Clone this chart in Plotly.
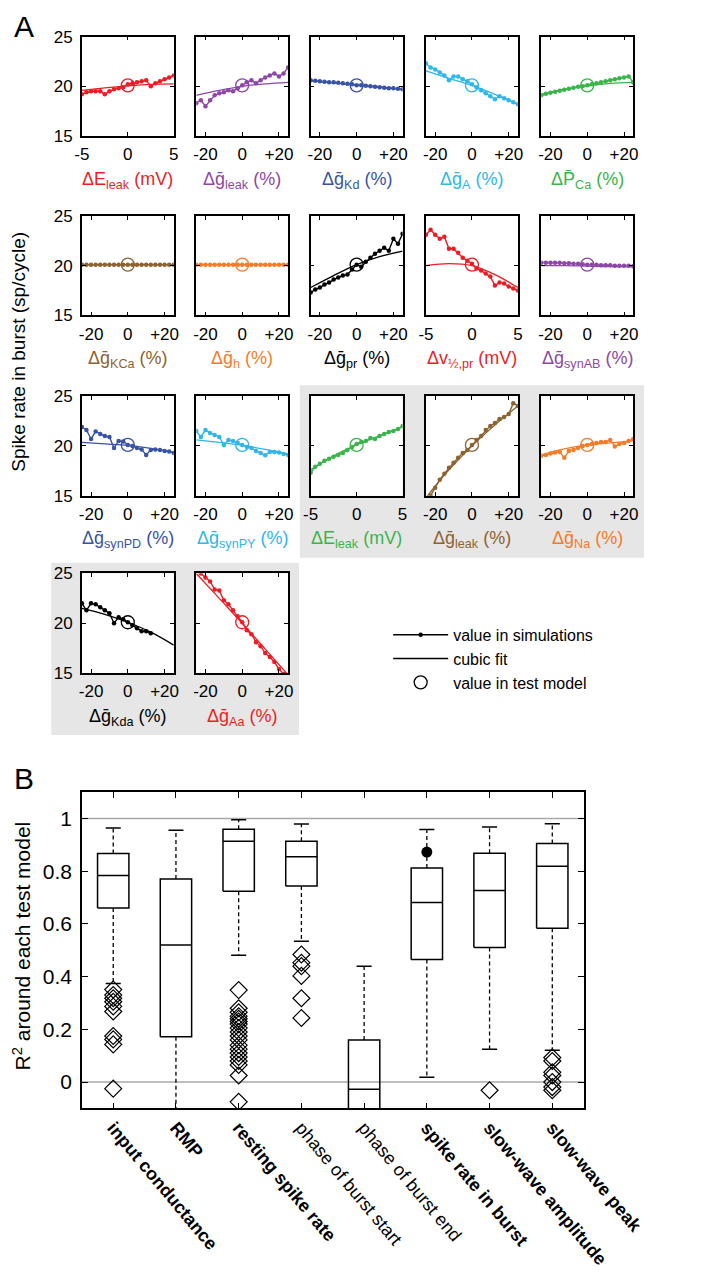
import plotly.graph_objects as go

W, H = 706, 1280
FONT = 'Liberation Sans, Arial, Helvetica, sans-serif'

# ---------------------------------------------------------------------------
# PANEL A DATA
# ---------------------------------------------------------------------------
PCT_X = [-25, -22.5, -20, -17.5, -15, -12.5, -10, -7.5, -5, -2.5, 0,
         2.5, 5, 7.5, 10, 12.5, 15, 17.5, 20, 22.5, 25]
MV_X = [-5, -4.5, -4, -3.5, -3, -2.5, -2, -1.5, -1, -0.5, 0,
        0.5, 1, 1.5, 2, 2.5, 3, 3.5, 4, 4.5, 5]
PCT_FIT_X = [-25, -12.5, 0, 12.5, 25]
MV_FIT_X = [-5, -2.5, 0, 2.5, 5]
TEST_X, TEST_Y = 0, 20.1

eleak_sim = [19.2, 19.4, 19.5, 19.5, 19.5, 19.2, 19.5, 19.7, 19.8, 19.9, 20.2,
             20.3, 20.4, 20.5, 20.6, 20.0, 20.3, 20.5, 20.7, 20.9, 21.1]
eleak_fit = [19.6, 19.85, 20.05, 20.2, 20.25]
gleak_sim = [18.3, 18.6, 18.0, 18.6, 19.1, 19.3, 19.4, 19.6, 19.5, 19.8, 20.1,
             20.4, 20.6, 20.3, 20.6, 20.9, 21.1, 21.3, 21.0, 21.3, 21.9]
gleak_fit = [19.1, 19.6, 20.0, 20.25, 20.4]
gkd_sim = [20.6, 20.55, 20.5, 20.45, 20.4, 20.4, 20.35, 20.3, 20.25, 20.2, 20.1,
           20.1, 20.05, 20.0, 19.95, 19.9, 19.85, 19.8, 19.8, 19.75, 19.7]
gkd_fit = [20.55, 20.35, 20.15, 19.95, 19.7]
ga_sim = [22.3, 21.9, 21.7, 21.4, 21.1, 20.6, 21.0, 21.0, 20.7, 20.5, 20.2,
          19.9, 19.6, 19.3, 19.0, 18.7, 19.0, 18.8, 18.6, 18.4, 18.2]
ga_fit = [21.55, 20.8, 20.1, 19.2, 18.2]
pca_sim = [19.1, 19.25, 19.35, 19.45, 19.55, 19.65, 19.75, 19.85, 19.95, 20.0, 20.1,
           20.2, 20.3, 20.4, 20.5, 20.6, 20.7, 20.8, 20.9, 21.0, 20.4]
pca_fit = [19.2, 19.7, 20.05, 20.3, 20.4]
gkca_sim = [20.1, 20.1, 20.1, 20.1, 20.1, 20.1, 20.1, 20.1, 20.1, 20.1, 20.1,
            20.1, 20.1, 20.1, 20.1, 20.1, 20.1, 20.1, 20.1, 20.1, 20.1]
gkca_fit = [20.1, 20.1, 20.1, 20.1, 20.1]
gh_sim = [20.1, 20.1, 20.1, 20.1, 20.1, 20.1, 20.1, 20.1, 20.1, 20.1, 20.1,
          20.1, 20.1, 20.1, 20.1, 20.1, 20.1, 20.1, 20.1, 20.1, 20.1]
gh_fit = [20.1, 20.1, 20.1, 20.1, 20.1]
gpr_sim = [17.3, 17.6, 17.8, 18.1, 18.3, 18.6, 18.8, 19.0, 19.1, 19.6, 20.1,
           19.9, 20.4, 20.8, 21.2, 21.5, 21.8, 21.5, 22.7, 22.2, 23.2]
gpr_fit = [17.8, 19.0, 20.1, 20.9, 21.45]
vpr_sim = [23.1, 23.6, 23.1, 22.7, 22.9, 21.7, 21.7, 21.3, 20.8, 20.5, 20.2,
           19.7, 19.5, 19.2, 18.9, 18.0, 18.3, 18.2, 17.9, 17.7, 17.5]
vpr_fit = [20.0, 20.2, 20.0, 19.1, 17.8]
gsynab_sim = [20.3, 20.3, 20.3, 20.3, 20.3, 20.25, 20.25, 20.2, 20.2, 20.15, 20.1,
              20.1, 20.1, 20.05, 20.05, 20.05, 20.0, 20.0, 20.0, 20.0, 19.95]
gsynab_fit = [20.0, 20.0, 19.95, 19.9, 19.9]
gsynpd_sim = [21.9, 21.6, 20.7, 21.45, 21.2, 21.0, 20.9, 19.8, 20.5, 20.45, 20.1,
              20.0, 19.8, 19.65, 19.1, 19.6, 19.65, 19.6, 19.5, 19.45, 19.3]
gsynpd_fit = [20.35, 20.2, 20.05, 19.75, 19.35]
gsynpy_sim = [21.5, 20.9, 21.6, 21.3, 21.1, 20.9, 20.1, 20.6, 20.5, 20.3, 20.1,
              19.9, 19.8, 19.5, 19.3, 19.05, 19.4, 19.4, 19.35, 19.2, 19.1]
gsynpy_fit = [20.6, 20.35, 20.05, 19.65, 19.2]
eleak2_sim = [17.3, 17.9, 18.2, 18.5, 18.7, 18.9, 19.1, 19.3, 19.6, 19.9, 20.2,
              20.4, 20.5, 20.8, 20.7, 21.0, 21.2, 21.4, 21.5, 21.7, 22.0]
eleak2_fit = [17.6, 19.0, 20.1, 21.0, 21.9]
gleak2_sim = [14.4, 15.0, 15.8, 16.6, 17.2, 17.8, 18.3, 18.8, 19.3, 19.6, 20.1,
              20.6, 21.0, 21.6, 22.0, 22.3, 22.7, 22.9, 23.2, 24.3, 24.0]
gleak2_fit = [14.8, 17.6, 20.0, 22.1, 24.0]
gna_sim = [19.0, 19.1, 19.25, 19.35, 19.4, 18.8, 19.5, 19.6, 19.8, 20.0, 20.1,
           20.2, 20.3, 20.4, 20.4, 20.6, 19.95, 20.2, 20.3, 20.5, 20.7]
gna_fit = [19.1, 19.7, 20.1, 20.3, 20.5]
gkda_sim = [22.0, 21.3, 22.0, 21.9, 21.6, 21.3, 21.0, 20.0, 20.6, 20.4, 20.1,
            19.8, 19.5, 19.2, 19.2, 19.0]
gkda_fit = [21.5, 20.9, 20.1, 19.1, 17.8]
gaa_sim = [25.6, 25.0, 24.6, 24.2, 23.4, 23.3, 22.3, 21.9, 21.3, 20.7, 20.1,
           19.3, 18.9, 18.1, 17.7, 17.0, 16.6, 16.1, 15.4, 14.9, 14.4]
gaa_fit = [25.0, 22.5, 20.0, 17.4, 14.8]

RED, PURPLE, BLUE, CYAN = '#ED1C24', '#8E47A6', '#3953A4', '#2DB7EA'
GREEN, BROWN, ORANGE, BLACK = '#39B54A', '#8C6330', '#F47B28', '#000000'

# (axis title, colour, unit, simulated values, cubic fit values)
PANELS = [
    ('ΔE<sub>leak</sub> (mV)', RED, 'mV', eleak_sim, eleak_fit),
    ('Δḡ<sub>leak</sub> (%)', PURPLE, '%', gleak_sim, gleak_fit),
    ('Δḡ<sub>Kd</sub> (%)', BLUE, '%', gkd_sim, gkd_fit),
    ('Δḡ<sub>A</sub> (%)', CYAN, '%', ga_sim, ga_fit),
    ('ΔP\u0304<sub>Ca</sub> (%)', GREEN, '%', pca_sim, pca_fit),
    ('Δḡ<sub>KCa</sub> (%)', BROWN, '%', gkca_sim, gkca_fit),
    ('Δḡ<sub>h</sub> (%)', ORANGE, '%', gh_sim, gh_fit),
    ('Δḡ<sub>pr</sub> (%)', BLACK, '%', gpr_sim, gpr_fit),
    ('Δv<sub>½,pr</sub> (mV)', RED, 'mV', vpr_sim, vpr_fit),
    ('Δḡ<sub>synAB</sub> (%)', PURPLE, '%', gsynab_sim, gsynab_fit),
    ('Δḡ<sub>synPD</sub> (%)', BLUE, '%', gsynpd_sim, gsynpd_fit),
    ('Δḡ<sub>synPY</sub> (%)', CYAN, '%', gsynpy_sim, gsynpy_fit),
    ('ΔE<sub>leak</sub> (mV)', GREEN, 'mV', eleak2_sim, eleak2_fit),
    ('Δḡ<sub>leak</sub> (%)', BROWN, '%', gleak2_sim, gleak2_fit),
    ('Δḡ<sub>Na</sub> (%)', ORANGE, '%', gna_sim, gna_fit),
    ('Δḡ<sub>Kda</sub> (%)', BLACK, '%', gkda_sim, gkda_fit),
    ('Δḡ<sub>Aa</sub> (%)', RED, '%', gaa_sim, gaa_fit),
]

# ---------------------------------------------------------------------------
# PANEL B DATA
# ---------------------------------------------------------------------------
CATEGORIES = ['input conductance', 'RMP', 'resting spike rate',
              'phase of burst start', 'phase of burst end',
              'spike rate in burst', 'slow-wave amplitude', 'slow-wave peak']
BOLD = [True, True, True, False, False, True, True, True]
Q1 = [0.661, 0.172, 0.724, 0.744, -0.25, 0.465, 0.511, 0.584]
MEDIAN = [0.784, 0.520, 0.914, 0.855, -0.027, 0.681, 0.727, 0.819]
Q3 = [0.867, 0.771, 0.959, 0.914, 0.160, 0.812, 0.868, 0.905]
UPPER = [0.964, 0.956, 0.995, 0.979, 0.440, 0.958, 0.968, 0.980]
LOWER = [0.374, -0.40, 0.481, 0.534, -0.60, 0.018, 0.125, 0.121]
OUTLIERS = [
    [0.351, 0.33, 0.318, 0.305, 0.287, 0.268, 0.175, 0.162, 0.143, -0.025],
    [],
    [0.349, 0.28, 0.265, 0.25, 0.24, 0.23, 0.22, 0.205, 0.19, 0.175, 0.16,
     0.14, 0.125, 0.11, 0.095, 0.08, 0.065, 0.025, -0.075],
    [0.484, 0.453, 0.44, 0.403, 0.318, 0.243],
    [],
    [],
    [-0.031],
    [0.093, 0.08, 0.037, 0.025, 0.0, -0.019, -0.031],
]
TEST_CAT, TEST_R2 = 6, 0.873

# ---------------------------------------------------------------------------
# LAYOUT HELPERS (pixel positions -> paper fractions)
# ---------------------------------------------------------------------------
COL_X = [82, 209, 336, 464, 592]
ROW_Y = [28, 210, 393, 573]
PW, PH = 102, 101


def xdom(px0, px1):
    return [px0 / W, px1 / W]


def ydom(top, bot):
    return [1 - bot / H, 1 - top / H]


fig = go.Figure()
layout = {}
annotations = []
shapes = []

# grey backgrounds behind the test-model groups
for x0, y0, x1, y1 in [(324, 382, 706, 557), (48, 562, 323, 737)]:
    shapes.append(dict(type='rect', xref='paper', yref='paper', layer='below',
                       x0=x0 / W, x1=x1 / W, y0=1 - y1 / H, y1=1 - y0 / H,
                       fillcolor='#E6E6E6', line=dict(width=0)))

for i, (title, color, unit, sim_y, fit_y) in enumerate(PANELS):
    n = i + 1
    row, col = divmod(i, 5)
    x0, y0 = COL_X[col], ROW_Y[row]
    shapes.append(dict(type='rect', xref='paper', yref='paper', layer='below',
                       x0=x0 / W, x1=(x0 + PW) / W, y0=1 - (y0 + PH) / H, y1=1 - y0 / H,
                       fillcolor='white', line=dict(width=0)))
    if unit == '%':
        sim_x, fit_x = PCT_X[:len(sim_y)], PCT_FIT_X
        xr, tv, tt = [-25, 25], [-20, 0, 20], ['-20', '0', '+20']
    else:
        sim_x, fit_x = MV_X[:len(sim_y)], MV_FIT_X
        xr, tv, tt = [-5, 5], [-5, 0, 5], ['-5', '0', '5']

    xa = 'x' if n == 1 else f'x{n}'
    ya = 'y' if n == 1 else f'y{n}'
    common = dict(showline=True, linecolor='black', linewidth=1.5, mirror='ticks',
                  ticks='inside', ticklen=4, tickwidth=1.2, tickcolor='black',
                  showgrid=False, zeroline=False, fixedrange=True,
                  tickfont=dict(size=17, color='black', family=FONT))
    layout[f'xaxis{n}'] = dict(domain=xdom(x0, x0 + PW), anchor=ya, range=xr,
                               tickvals=tv, ticktext=tt, ticklabelstandoff=2, **common)
    layout[f'yaxis{n}'] = dict(domain=ydom(y0, y0 + PH), anchor=xa, range=[15, 25],
                               tickvals=[15, 20, 25], showticklabels=(col == 0),
                               ticklabelstandoff=4, **common)

    fig.add_trace(go.Scatter(x=fit_x, y=fit_y, mode='lines', xaxis=xa, yaxis=ya,
                             line=dict(color=color, width=1.3, shape='spline'),
                             showlegend=False, hoverinfo='skip'))
    fig.add_trace(go.Scatter(x=sim_x, y=sim_y, mode='lines+markers', xaxis=xa, yaxis=ya,
                             line=dict(color=color, width=1.4),
                             marker=dict(color=color, size=4.5),
                             showlegend=False))
    fig.add_trace(go.Scatter(x=[TEST_X], y=[TEST_Y], mode='markers', xaxis=xa, yaxis=ya,
                             marker=dict(symbol='circle-open', size=13, color=color,
                                         line=dict(width=1.3, color=color)),
                             showlegend=False))

    annotations.append(dict(text=title, xref='paper', yref='paper',
                            x=(x0 + PW / 2) / W, y=1 - (y0 + PH + 31) / H,
                            xanchor='center', yanchor='top', showarrow=False,
                            font=dict(size=18, color=color, family=FONT)))

# legend entries (black samples)
fig.add_trace(go.Scatter(x=[None], y=[None], mode='lines+markers', name='value in simulations',
                         line=dict(color='black', width=1.4), marker=dict(color='black', size=4.5)))
fig.add_trace(go.Scatter(x=[None], y=[None], mode='lines', name='cubic fit',
                         line=dict(color='black', width=1.4)))
fig.add_trace(go.Scatter(x=[None], y=[None], mode='markers', name='value in test model',
                         marker=dict(symbol='circle-open', size=13, color='black',
                                     line=dict(width=1.3, color='black'))))

# ---------------------------------------------------------------------------
# PANEL B – box plots drawn from the summary statistics
# ---------------------------------------------------------------------------
BOX_HALF, CAP_HALF = 0.25, 0.12
pos = list(range(1, len(CATEGORIES) + 1))

box_x, box_y, med_x, med_y = [], [], [], []
wh_x, wh_y, cap_x, cap_y = [], [], [], []
out_x, out_y = [], []
for c, q1, md, q3, lo, hi, outs in zip(pos, Q1, MEDIAN, Q3, LOWER, UPPER, OUTLIERS):
    box_x += [c - BOX_HALF, c + BOX_HALF, c + BOX_HALF, c - BOX_HALF, c - BOX_HALF, None]
    box_y += [q1, q1, q3, q3, q1, None]
    med_x += [c - BOX_HALF, c + BOX_HALF, None]
    med_y += [md, md, None]
    wh_x += [c, c, None, c, c, None]
    wh_y += [q3, hi, None, q1, lo, None]
    cap_x += [c - CAP_HALF, c + CAP_HALF, None, c - CAP_HALF, c + CAP_HALF, None]
    cap_y += [hi, hi, None, lo, lo, None]
    out_x += [c] * len(outs)
    out_y += outs

B = dict(xaxis='x18', yaxis='y18', showlegend=False, hoverinfo='skip')
fig.add_trace(go.Scatter(x=wh_x, y=wh_y, mode='lines',
                         line=dict(color='black', width=1.3, dash='4px,3px'), **B))
fig.add_trace(go.Scatter(x=cap_x, y=cap_y, mode='lines',
                         line=dict(color='black', width=1.5), **B))
fig.add_trace(go.Scatter(x=box_x, y=box_y, mode='lines',
                         line=dict(color='black', width=1.5), **B))
fig.add_trace(go.Scatter(x=med_x, y=med_y, mode='lines',
                         line=dict(color='black', width=1.5), **B))
fig.add_trace(go.Scatter(x=out_x, y=out_y, mode='markers',
                         marker=dict(symbol='diamond-open', size=13, color='black',
                                     line=dict(width=1.2, color='black')), **B))
fig.add_trace(go.Scatter(x=[TEST_CAT], y=[TEST_R2], mode='markers',
                         marker=dict(symbol='circle', size=11, color='black'), **B))

for yv in [0, 1]:
    shapes.append(dict(type='line', xref='x18 domain', yref='y18', x0=0, x1=1,
                       y0=yv, y1=yv, layer='below', line=dict(color='#A8A8A8', width=1.5)))

ticktext = [f'<b>{c}</b>' if b else c for c, b in zip(CATEGORIES, BOLD)]
bcommon = dict(showline=True, linecolor='black', linewidth=1.5, mirror='ticks',
               ticks='inside', ticklen=6, tickwidth=1.2, tickcolor='black',
               showgrid=False, zeroline=False, fixedrange=True)
layout['xaxis18'] = dict(domain=xdom(82, 639), anchor='y18', range=[0.5, 8.5],
                         tickvals=pos, ticktext=ticktext, tickangle=50,
                         tickfont=dict(size=18, color='black', family=FONT), **bcommon)
layout['yaxis18'] = dict(domain=ydom(795, 1116), anchor='x18', range=[-0.1, 1.1],
                         tickvals=[0, 0.2, 0.4, 0.6, 0.8, 1],
                         ticktext=['0', '0.2', '0.4', '0.6', '0.8', '1'],
                         ticklabelstandoff=4,
                         tickfont=dict(size=21, color='black', family=FONT), **bcommon)

# ---------------------------------------------------------------------------
# TEXT
# ---------------------------------------------------------------------------
annotations += [
    dict(text='A', x=18 / W, y=1 - 18 / H, xanchor='center', yanchor='middle',
         font=dict(size=30, family=FONT, color='black')),
    dict(text='B', x=18 / W, y=1 - 781 / H, xanchor='center', yanchor='middle',
         font=dict(size=30, family=FONT, color='black')),
    dict(text='Spike rate in burst (sp/cycle)', x=12 / W, y=1 - 348 / H, textangle=-90,
         xanchor='center', yanchor='middle', font=dict(size=19, family=FONT, color='black')),
    dict(text='R<sup>2</sup> around each test model', x=15 / W, y=1 - 951 / H, textangle=-90,
         xanchor='center', yanchor='middle', font=dict(size=21, family=FONT, color='black')),
]
for a in annotations:
    a.setdefault('xref', 'paper')
    a.setdefault('yref', 'paper')
    a['showarrow'] = False

fig.update_layout(
    width=W, height=H,
    margin=dict(l=0, r=0, t=0, b=0),
    paper_bgcolor='white', plot_bgcolor='white',
    font=dict(family=FONT, color='black'),
    showlegend=True,
    legend=dict(x=422 / W, y=1 - 618 / H, xanchor='left', yanchor='top',
                bgcolor='rgba(0,0,0,0)', font=dict(size=16, family=FONT, color='black'),
                itemwidth=55, tracegroupgap=0),
    annotations=annotations,
    shapes=shapes,
    **layout,
)

fig.write_html('out.html',
               config={'displayModeBar': False},
               post_script="document.body.style.margin='0px';")
